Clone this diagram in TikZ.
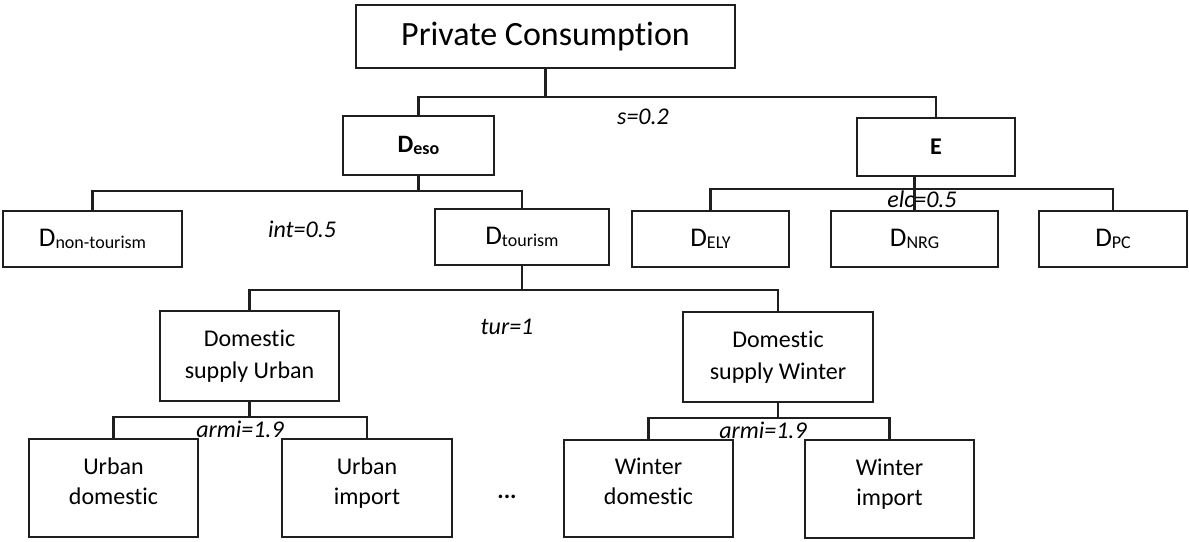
\documentclass[tikz,border=0pt]{standalone}
\usepackage{fontspec}
\setmainfont{Carlito}[Ligatures=NoCommon]
\newcommand{\Dsub}[2][27]{{\fontsize{#1}{#1}\selectfont D}{\fontsize{18}{18}\selectfont\raisebox{-2pt}{#2}}}
\newcommand{\leaftxt}[2]{\raisebox{5pt}[\height][\depth]{\begin{tabular}{@{}c@{}}#1\\#2\end{tabular}}}
\begin{document}
\begin{tikzpicture}[x=1pt,y=-1pt,
  box/.style={draw=black!88, line width=2.2pt, inner sep=0pt, align=center,
    font=\fontsize{24}{32}\selectfont},
  leaf/.style={box, minimum width=169, minimum height=98, font=\fontsize{24}{30}\selectfont},
  wire/.style={draw=black!88, line width=2.2pt},
  lbl/.style={font=\fontsize{24}{29}\selectfont\itshape, inner sep=0pt}]
\useasboundingbox (0,0) rectangle (1189,541);

% boxes
\node[box, minimum width=379, minimum height=63, font=\fontsize{34}{40}\selectfont] (pc) at (545.5,36.5) {Private Consumption};
\node[box, minimum width=151, minimum height=59] (deso) at (418.5,145.5) {\bfseries\Dsub[25]{eso}};
\node[box, minimum width=158, minimum height=58] (e) at (936,147) {\bfseries E};
\node[box, minimum width=179, minimum height=56] (dnon) at (92.5,239) {\Dsub{non-tourism}};
\node[box, minimum width=174, minimum height=56] (dtour) at (522,237) {\Dsub{tourism}};
\node[box, minimum width=157, minimum height=56] (dely) at (710.5,239) {\Dsub{ELY}};
\node[box, minimum width=167, minimum height=56] (dnrg) at (914.5,239) {\Dsub{NRG}};
\node[box, minimum width=148, minimum height=56] (dpc) at (1113,239) {\Dsub{PC}};
\node[box, minimum width=179, minimum height=90] (dsu) at (249.5,356) {Domestic\\supply Urban};
\node[box, minimum width=190, minimum height=90] (dsw) at (778,357) {Domestic\\supply Winter};
\node[leaf] (ud) at (113.5,488) {\leaftxt{Urban}{domestic}};
\node[leaf, minimum width=170] (ui) at (367,488) {\leaftxt{Urban}{import}};
\node[leaf, minimum height=97] (wd) at (648.5,488.5) {\leaftxt{Winter}{domestic}};
\node[leaf] (wi) at (889.5,489) {\leaftxt{Winter}{import}};

% junction points
\coordinate (j1) at (545.5,97);
\coordinate (j2) at (418.5,191);
\coordinate (j3) at (914.5,189);
\coordinate (j4) at (522,290);
\coordinate (j5) at (249.5,417);
\coordinate (j6) at (778,418);

% connectors
\draw[wire] (pc.south) -- (j1);
\draw[wire] (deso.north) |- (j1) -| (e.north);
\draw[wire] (deso.south) -- (j2);
\draw[wire] (dnon.north) |- (j2) -| (dtour.north);
\draw[wire] (e.south -| dnrg.north) -- (dnrg.north);
\draw[wire] (dely.north) |- (j3) -| (dpc.north);
\draw[wire] (dtour.south) -- (j4);
\draw[wire] (dsu.north) |- (j4) -| (dsw.north);
\draw[wire] (dsu.south) -- (j5);
\draw[wire] (ud.north) |- (j5) -| (ui.north);
\draw[wire] (dsw.south) -- (j6);
\draw[wire] (wd.north) |- (j6) -| (wi.north);

% labels
\node[lbl] (ls) at (643,117) {s=0.2};
\node[lbl] (lint) at (302,229) {int=0.5};
\node[lbl] (lelc) at (922,199) {elc=0.5};
\node[lbl] (ltur) at (507,327) {tur=1};
\node[lbl] (la1) at (240,429) {armi=1.9};
\node[lbl] (la2) at (763,430) {armi=1.9};
\node[inner sep=0pt, font=\fontsize{24}{29}\selectfont\bfseries] (dots) at (507,497) {...};
\end{tikzpicture}
\end{document}
